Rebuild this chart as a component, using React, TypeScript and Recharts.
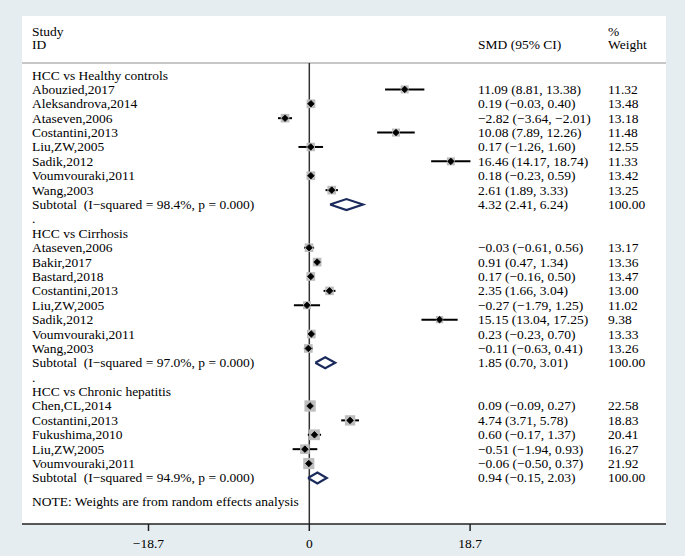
import {
  ScatterChart,
  Scatter,
  XAxis,
  YAxis,
  ErrorBar,
  ReferenceLine,
  CartesianGrid,
} from "recharts";

const FONT = "Liberation Serif";
const BG = "#e6edf0";

// Subgroups and their studies
const groupNames = [
  "HCC vs Healthy controls",
  "HCC vs Cirrhosis",
  "HCC vs Chronic hepatitis",
];

const healthyStudies = [
  "Abouzied,2017",
  "Aleksandrova,2014",
  "Ataseven,2006",
  "Costantini,2013",
  "Liu,ZW,2005",
  "Sadik,2012",
  "Voumvouraki,2011",
  "Wang,2003",
];
const healthySmd = [11.09, 0.19, -2.82, 10.08, 0.17, 16.46, 0.18, 2.61];
const healthyLo = [8.81, -0.03, -3.64, 7.89, -1.26, 14.17, -0.23, 1.89];
const healthyHi = [13.38, 0.4, -2.01, 12.26, 1.6, 18.74, 0.59, 3.33];
const healthyWeight = [11.32, 13.48, 13.18, 11.48, 12.55, 11.33, 13.42, 13.25];

const cirrhosisStudies = [
  "Ataseven,2006",
  "Bakir,2017",
  "Bastard,2018",
  "Costantini,2013",
  "Liu,ZW,2005",
  "Sadik,2012",
  "Voumvouraki,2011",
  "Wang,2003",
];
const cirrhosisSmd = [-0.03, 0.91, 0.17, 2.35, -0.27, 15.15, 0.23, -0.11];
const cirrhosisLo = [-0.61, 0.47, -0.16, 1.66, -1.79, 13.04, -0.23, -0.63];
const cirrhosisHi = [0.56, 1.34, 0.5, 3.04, 1.25, 17.25, 0.7, 0.41];
const cirrhosisWeight = [13.17, 13.36, 13.47, 13.0, 11.02, 9.38, 13.33, 13.26];

const hepatitisStudies = [
  "Chen,CL,2014",
  "Costantini,2013",
  "Fukushima,2010",
  "Liu,ZW,2005",
  "Voumvouraki,2011",
];
const hepatitisSmd = [0.09, 4.74, 0.6, -0.51, -0.06];
const hepatitisLo = [-0.09, 3.71, -0.17, -1.94, -0.5];
const hepatitisHi = [0.27, 5.78, 1.37, 0.93, 0.37];
const hepatitisWeight = [22.58, 18.83, 20.41, 16.27, 21.92];

// Pooled estimates per subgroup
const subtotalI2 = ["98.4%", "97.0%", "94.9%"];
const subtotalSmd = [4.32, 1.85, 0.94];
const subtotalLo = [2.41, 0.7, -0.15];
const subtotalHi = [6.24, 3.01, 2.03];

const xTicks = [-18.7, 0, 18.7];
const noteText = "NOTE: Weights are from random effects analysis";

const fmt = (v: number) => (v < 0 ? "\u2212" : "") + Math.abs(v).toFixed(2);
const ci = (e: number, l: number, h: number) =>
  `${fmt(e)} (${fmt(l)}, ${fmt(h)})`;

type TextRow = { x: number; y: number; label: string; smd?: string; weight?: string };
type StudyPoint = { x: number; y: number; w: number; err: [number, number] };

const groups = [
  { studies: healthyStudies, smd: healthySmd, lo: healthyLo, hi: healthyHi, w: healthyWeight },
  { studies: cirrhosisStudies, smd: cirrhosisSmd, lo: cirrhosisLo, hi: cirrhosisHi, w: cirrhosisWeight },
  { studies: hepatitisStudies, smd: hepatitisSmd, lo: hepatitisLo, hi: hepatitisHi, w: hepatitisWeight },
];

const textRows: TextRow[] = [
  { x: 0, y: -3.05, label: "Study", weight: "%" },
  { x: 0, y: -2.1, label: "ID", smd: "SMD (95% CI)", weight: "Weight" },
];
const studyPoints: StudyPoint[] = [];
const diamonds: { x: number; y: number }[][] = [];

let r = 0;
groups.forEach((g, gi) => {
  textRows.push({ x: 0, y: r, label: groupNames[gi] });
  r++;
  g.studies.forEach((s, i) => {
    textRows.push({ x: 0, y: r, label: s, smd: ci(g.smd[i], g.lo[i], g.hi[i]), weight: g.w[i].toFixed(2) });
    studyPoints.push({ x: g.smd[i], y: r, w: g.w[i], err: [g.smd[i] - g.lo[i], g.hi[i] - g.smd[i]] });
    r++;
  });
  textRows.push({
    x: 0,
    y: r,
    label: `Subtotal  (I\u2212squared = ${subtotalI2[gi]}, p = 0.000)`,
    smd: ci(subtotalSmd[gi], subtotalLo[gi], subtotalHi[gi]),
    weight: "100.00",
  });
  const h = 0.38;
  diamonds.push([
    { x: subtotalLo[gi], y: r },
    { x: subtotalSmd[gi], y: r - h },
    { x: subtotalHi[gi], y: r },
    { x: subtotalSmd[gi], y: r + h },
    { x: subtotalLo[gi], y: r },
  ]);
  r++;
  if (gi < groups.length - 1) {
    textRows.push({ x: 0, y: r, label: "." });
    r++;
  }
});
textRows.push({ x: 0, y: r + 0.65, label: noteText });

const COL_STUDY = 32;
const COL_SMD = 478;
const COL_WEIGHT = 608;

function TextShape(props: any) {
  const { cy, payload } = props;
  const common = {
    y: cy,
    fontFamily: FONT,
    fontSize: 13.5,
    fill: "#000",
    dominantBaseline: "central" as const,
    style: { whiteSpace: "pre" as const },
  };
  return (
    <g>
      <text x={COL_STUDY} {...common}>{payload.label}</text>
      {payload.smd && <text x={COL_SMD} {...common}>{payload.smd}</text>}
      {payload.weight && <text x={COL_WEIGHT} {...common}>{payload.weight}</text>}
    </g>
  );
}

function BoxShape(props: any) {
  const { cx, cy, payload } = props;
  const s = 2.38 * Math.sqrt(payload.w);
  return <rect x={cx - s / 2} y={cy - s / 2} width={s} height={s} fill="#bdbdbd" />;
}

function PointShape(props: any) {
  const { cx, cy } = props;
  const d = 3.3;
  return (
    <path
      d={`M${cx - d},${cy} L${cx},${cy - d} L${cx + d},${cy} L${cx},${cy + d} Z`}
      fill="#000"
      stroke="#000"
      strokeWidth={0.8}
    />
  );
}

const Empty = () => <g />;

export default function App() {
  return (
    <div
      style={{
        position: "absolute",
        left: 0,
        top: 0,
        width: 685,
        height: 556,
        background: BG,
      }}
    >
      <ScatterChart
        width={685}
        height={556}
        margin={{ top: 16, right: 19, left: 22, bottom: 0 }}
      >
        <CartesianGrid horizontal={false} vertical={false} fill="#ffffff" />
        <XAxis
          type="number"
          dataKey="x"
          domain={[-33.41, 41.48]}
          allowDataOverflow
          ticks={xTicks}
          interval={0}
          height={32}
          tickSize={7}
          tickMargin={7}
          axisLine={{ stroke: "#222", strokeWidth: 1.5 }}
          tickLine={{ stroke: "#222", strokeWidth: 1.5 }}
          tick={{ fontFamily: FONT, fontSize: 13.5, fill: "#000" }}
          tickFormatter={(v: number) => (v < 0 ? "\u2212" + Math.abs(v) : String(v))}
        />
        <YAxis type="number" dataKey="y" domain={[-4.1, 31.2]} reversed hide allowDataOverflow />
        <ReferenceLine
          segment={[
            { x: -33.41, y: -0.83 },
            { x: 41.48, y: -0.83 },
          ]}
          stroke="#b5b5b5"
          strokeWidth={1.5}
        />
        <Scatter data={textRows} shape={TextShape} isAnimationActive={false} />
        <ReferenceLine
          segment={[
            { x: 0, y: -0.83 },
            { x: 0, y: 31.2 },
          ]}
          stroke="#333"
          strokeWidth={1.5}
        />
        <Scatter data={studyPoints} shape={BoxShape} isAnimationActive={false} />
        <Scatter data={studyPoints} shape={Empty} isAnimationActive={false}>
          <ErrorBar dataKey="err" direction="x" width={0} stroke="#000" strokeWidth={2} />
        </Scatter>
        <Scatter data={studyPoints} shape={PointShape} isAnimationActive={false} />
        {diamonds.map((d, i) => (
          <Scatter
            key={i}
            data={d}
            line={{ stroke: "#1b2a5c", strokeWidth: 2.2 }}
            lineType="joint"
            shape={Empty}
            isAnimationActive={false}
          />
        ))}
      </ScatterChart>
    </div>
  );
}
